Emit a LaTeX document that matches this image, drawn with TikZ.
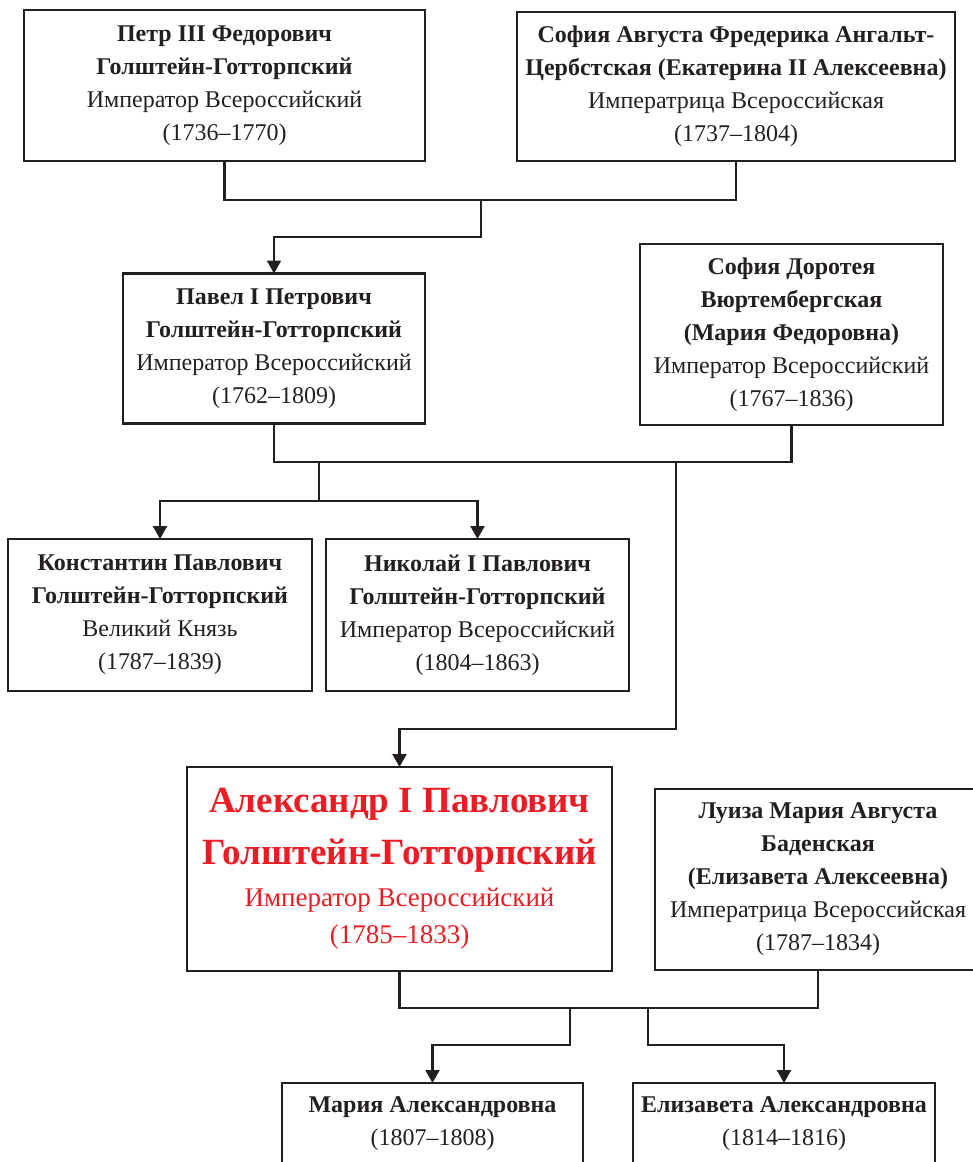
\documentclass[tikz,border=0pt]{standalone}
\usepackage{fontspec}
\setmainfont{Liberation Serif}
\usepackage{tikz}
\usetikzlibrary{arrows.meta, positioning, calc}

\definecolor{inkc}{HTML}{231F20}
\definecolor{heirc}{HTML}{ED1C24}

\begin{document}
\begin{tikzpicture}[
    x=1pt, y=-1pt,
    % styles
    >={Triangle[width=14pt, length=13pt]},
    person/.style={draw=inkc, line width=2.2pt, rectangle, inner sep=0pt, outer sep=0pt,
        align=center, text=inkc, font=\fontsize{24}{33}\selectfont},
    heir/.style={person, text=heirc, font=\fontsize{27}{37}\selectfont},
    link/.style={draw=inkc, line width=2.2pt},
    flow/.style={->, draw=inkc, line width=2.2pt}
]
    \useasboundingbox (0,0) rectangle (973,1162);
    \clip (0,0) rectangle (973,1162);

    % =================================================================
    % I. Parents: Peter III and Catherine II
    % =================================================================
    \node[person, minimum width=401pt, minimum height=151pt] (Petr) at (224.5,85.5)
        {\textbf{Петр III Федорович}\\ \textbf{Голштейн-Готторпский}\\ Император Всероссийский\\ (1736–1770)};
    \node[person, minimum width=438pt, minimum height=149pt] (SofA) at (736,86.5)
        {\textbf{София Августа Фредерика Ангальт-}\\ \textbf{Цербстская (Екатерина II Алексеевна)}\\ Императрица Всероссийская\\ (1737–1804)};

    % =================================================================
    % II. Paul I and Maria Feodorovna
    % =================================================================
    \node[person, minimum width=302pt, minimum height=150pt] (Pavel) at (274,348.5)
        {\textbf{Павел I Петрович}\\ \textbf{Голштейн-Готторпский}\\ Император Всероссийский\\ (1762–1809)};
    \node[person, minimum width=303pt, minimum height=181pt] (SofD) at (791.5,334.5)
        {\textbf{София Доротея}\\ \textbf{Вюртембергская}\\ \textbf{(Мария Федоровна)}\\ Император Всероссийский\\ (1767–1836)};

    % =================================================================
    % III. Brothers
    % =================================================================
    \node[person, minimum width=304pt, minimum height=152pt] (Konst) at (160,615)
        {\textbf{Константин Павлович}\\ \textbf{Голштейн-Готторпский}\\ Великий Князь\\ (1787–1839)};
    \node[person, minimum width=303pt, minimum height=152pt] (Nik) [right=14pt of Konst]
        {\textbf{Николай I Павлович}\\ \textbf{Голштейн-Готторпский}\\ Император Всероссийский\\ (1804–1863)};

    % =================================================================
    % IV. Alexander I and Elizabeth Alexeievna
    % =================================================================
    \node[heir, minimum width=425pt, minimum height=204pt] (Alex) at (399.5,869)
        {{\fontsize{37}{37}\selectfont\bfseries Александр I Павлович}\\[15pt]
         {\fontsize{37}{37}\selectfont\bfseries Голштейн-Готторпский}\\[5pt]
         Император Всероссийский\\ (1785–1833)};
    \node[person, minimum width=326pt, minimum height=181pt] (Luiza) at (818,879.5)
        {\textbf{Луиза Мария Августа}\\ \textbf{Баденская}\\ \textbf{(Елизавета Алексеевна)}\\ Императрица Всероссийская\\ (1787–1834)};

    % =================================================================
    % V. Daughters
    % =================================================================
    \node[person, minimum width=301pt, minimum height=82pt] (Maria) at (432.5,1124)
        {\textbf{Мария Александровна}\\ (1807–1808)};
    \node[person, minimum width=302pt, minimum height=82pt] (Eliz) [right=50pt of Maria]
        {\textbf{Елизавета Александровна}\\ (1814–1816)};

    % =================================================================
    % Connectors
    % =================================================================
    \coordinate (PairA) at (481,200);
    \coordinate (PairB) at (319,462);
    \coordinate (PairC) at (676,462);
    \coordinate (PairD) at (570,1008);
    \coordinate (PairE) at (648,1008);

    \draw[link] (Petr.south) |- (PairA) -| (SofA.south);
    \draw[flow] (PairA) -- ++(0,37) -| (Pavel.north);

    \draw[link] (Pavel.south) |- (PairB) -| (SofD.south);
    \draw[flow] (PairB) -- ++(0,39) -| (Konst.north);
    \draw[flow] (PairB) -- ++(0,39) -| (Nik.north);
    \draw[flow] (PairC) -- ++(0,267) -| (Alex.north);

    \draw[link] (Alex.south) |- (PairD) -| (Luiza.south);
    \draw[flow] (PairD) -- ++(0,37) -| (Maria.north);
    \draw[flow] (PairE) -- ++(0,37) -| (Eliz.north);

\end{tikzpicture}
\end{document}
